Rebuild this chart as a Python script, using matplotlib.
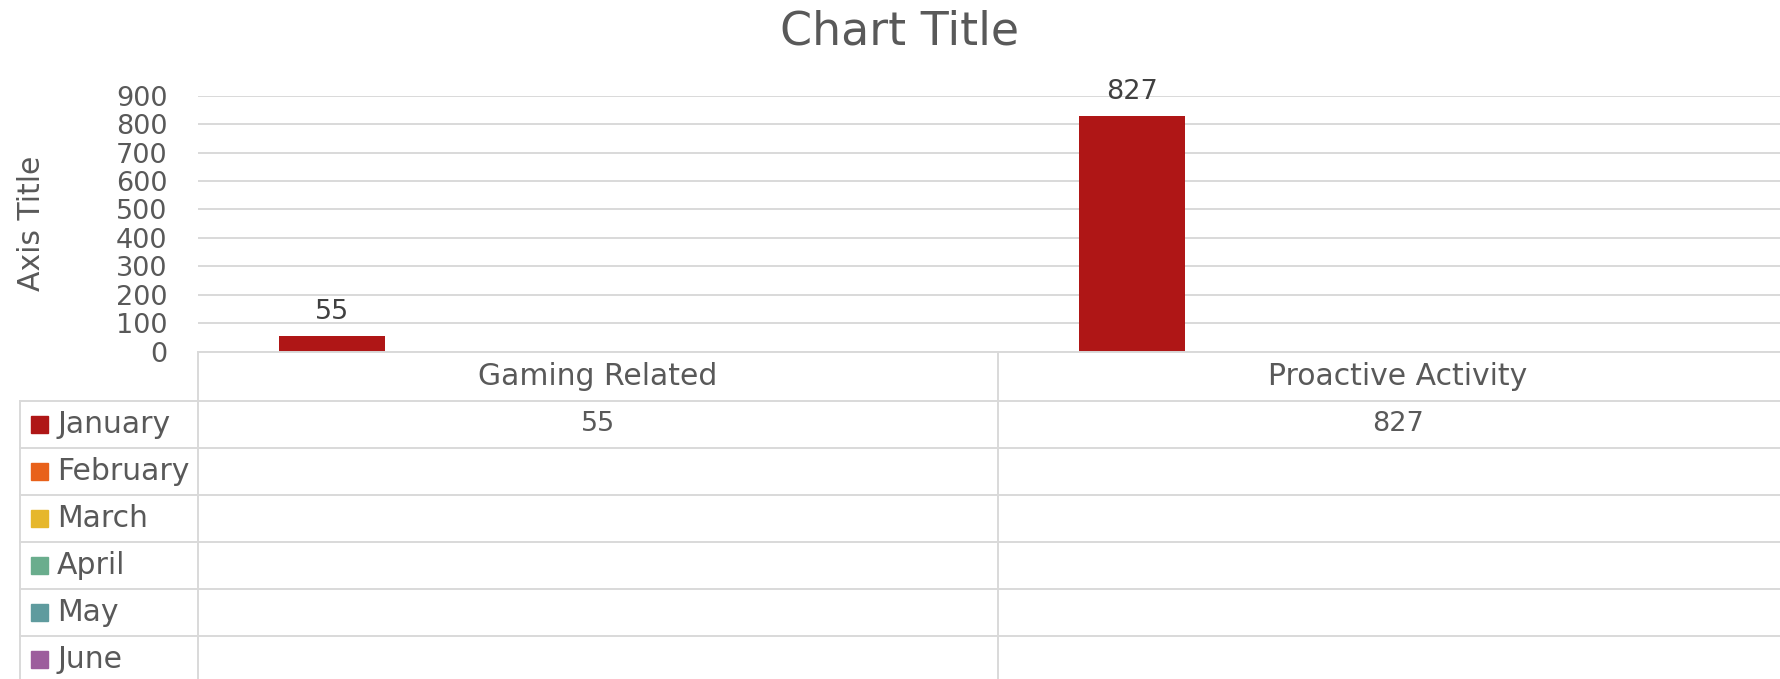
import matplotlib
matplotlib.use('Agg')
import matplotlib.pyplot as plt
import numpy as np

# Chart data
categories = ['Gaming Related', 'Proactive Activity']
months = ['January', 'February', 'March', 'April', 'May', 'June']
january = [55, 827]
february = [np.nan, np.nan]
march = [np.nan, np.nan]
april = [np.nan, np.nan]
may = [np.nan, np.nan]
june = [np.nan, np.nan]
series = [january, february, march, april, may, june]
month_colors = ['#AF1616', '#E8611A', '#E6B72B', '#6AAD8D', '#5F9B9E', '#9D5E9D']
y_ticks = [0, 100, 200, 300, 400, 500, 600, 700, 800, 900]

W, H = 1780, 679
TEXT = '#595959'
GRID = '#D9D9D9'


def fx(x):
    return x / W


def fy(y):
    return 1 - y / H


def plot_chart():
    plt.rcParams['font.family'] = ['DejaVu Sans']
    fig = plt.figure(figsize=(W / 100, H / 100), dpi=100)

    # plot area in pixel terms (right side runs past the image edge)
    left, right, top, bottom = 198, 1798, 95.7, 351.7
    ax = fig.add_axes([fx(left), fy(bottom), (right - left) / W, (bottom - top) / H])

    x = np.arange(len(categories))
    n = len(series)
    bar_w = 0.133
    for i, (vals, color) in enumerate(zip(series, month_colors)):
        offs = x + (i - (n - 1) / 2) * bar_w
        for xo, v in zip(offs, vals):
            if np.isnan(v):
                continue
            ax.bar(xo, v, width=bar_w, color=color, zorder=3)
            ax.annotate(f'{v:g}', (xo, v), xytext=(0, 11), textcoords='offset pixels',
                        ha='center', va='bottom', fontsize=19.5, color='#404040')

    ax.set_xlim(-0.5, len(categories) - 0.5)
    ax.set_ylim(0, 900)
    ax.set_yticks(y_ticks)
    ax.set_yticklabels([str(t) for t in y_ticks], fontsize=19.5, color=TEXT)
    ax.tick_params(axis='y', length=0, pad=22)
    ax.set_xticks([])
    ax.grid(axis='y', color=GRID, linewidth=1.4, zorder=0)
    ax.set_axisbelow(True)
    for s in ax.spines.values():
        s.set_visible(False)

    # titles
    fig.text(fx(900), fy(32), 'Chart Title', ha='center', va='center', fontsize=33, color=TEXT)
    fig.text(fx(32), fy(223), 'Axis Title', ha='center', va='center', rotation=90,
             fontsize=21.5, color=TEXT)

    # data table drawn in pixel coordinates
    tab = fig.add_axes([0, 0, 1, 1], facecolor='none')
    tab.set_xlim(0, W)
    tab.set_ylim(H, 0)
    tab.axis('off')

    row_top = 400.7
    row_h = 47
    col_edges = [left, 998, right]
    lw = 1.4
    tab.plot([left, W], [bottom, bottom], color=GRID, lw=lw)
    for k in range(len(months)):
        yy = row_top + k * row_h
        tab.plot([20, W], [yy, yy], color=GRID, lw=lw)
    tab.plot([20, 20], [row_top, H], color=GRID, lw=lw)
    for xx in col_edges:
        tab.plot([xx, xx], [bottom, H], color=GRID, lw=lw)

    # category header row
    for j, cat in enumerate(categories):
        cx = (col_edges[j] + col_edges[j + 1]) / 2
        tab.text(cx, (bottom + row_top) / 2, cat, ha='center', va='center',
                 fontsize=21.5, color=TEXT)

    # legend key column and values
    for k, (name, color, vals) in enumerate(zip(months, month_colors, series)):
        cy = row_top + (k + 0.5) * row_h
        tab.add_patch(plt.Rectangle((31, cy - 8.5), 17, 17, color=color))
        tab.text(57, cy, name, ha='left', va='center', fontsize=21.5, color=TEXT)
        for j, v in enumerate(vals):
            if np.isnan(v):
                continue
            cx = (col_edges[j] + col_edges[j + 1]) / 2
            tab.text(cx, cy, f'{v:g}', ha='center', va='center', fontsize=19.5, color=TEXT)

    fig.savefig('out.png', dpi=100)


if __name__ == '__main__':
    plot_chart()
